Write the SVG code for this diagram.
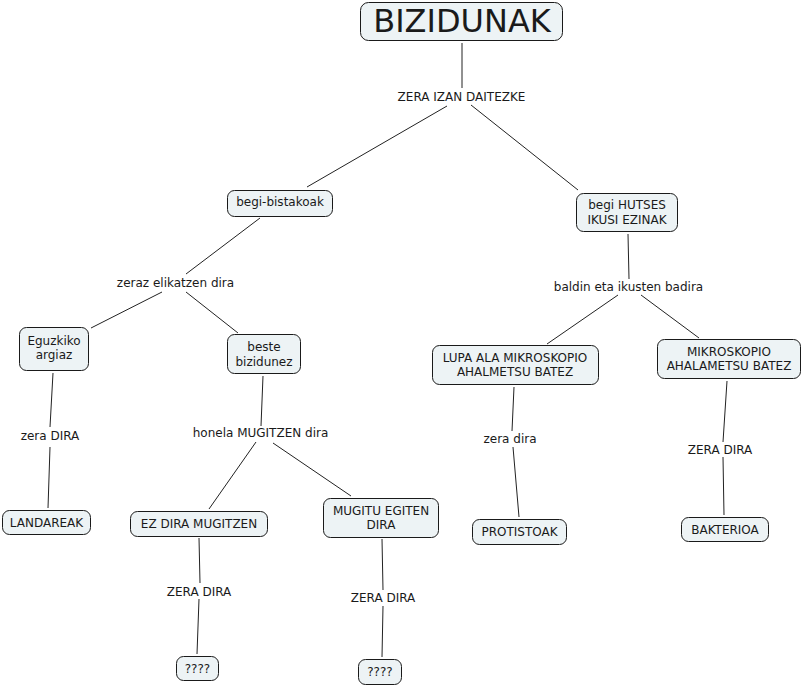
<svg xmlns="http://www.w3.org/2000/svg" width="802" height="686" viewBox="0 0 802 686">
<style>
.n rect{fill:#edf3f5;stroke:#1a1a1a;stroke-width:1}
text{font-family:"DejaVu Sans",Verdana,sans-serif;font-size:12px;fill:#1a1a1a;text-anchor:middle}
.big{font-size:32px}
#links line{stroke:#222;stroke-width:1}
</style>
<rect width="802" height="686" fill="#fff"/>
<g id="links">
<line x1="462" y1="43" x2="462" y2="88"/>
<line x1="447" y1="106" x2="307" y2="187"/>
<line x1="471" y1="105" x2="578" y2="190"/>
<line x1="260" y1="218" x2="186" y2="274"/>
<line x1="162" y1="292" x2="91" y2="328"/>
<line x1="186" y1="292" x2="238" y2="333"/>
<line x1="53" y1="373" x2="50" y2="427"/>
<line x1="50" y1="447" x2="48" y2="508"/>
<line x1="263" y1="376" x2="261" y2="426"/>
<line x1="256" y1="442" x2="209" y2="509"/>
<line x1="273" y1="443" x2="351" y2="496"/>
<line x1="199" y1="538" x2="200" y2="583"/>
<line x1="199" y1="599" x2="197" y2="654"/>
<line x1="382" y1="539" x2="383" y2="590"/>
<line x1="383" y1="606" x2="382" y2="657"/>
<line x1="628" y1="234" x2="629" y2="279"/>
<line x1="618" y1="295" x2="547" y2="344"/>
<line x1="641" y1="295" x2="699" y2="338"/>
<line x1="514" y1="387" x2="512" y2="431"/>
<line x1="513" y1="447" x2="519" y2="517"/>
<line x1="727" y1="381" x2="723" y2="442"/>
<line x1="723" y1="457" x2="724" y2="515"/>
</g>
<g id="labels">
<text x="461.5" y="101">ZERA IZAN DAITEZKE</text>
<text x="175.5" y="287">zeraz elikatzen dira</text>
<text x="628.5" y="291">baldin eta ikusten badira</text>
<text x="50" y="440">zera DIRA</text>
<text x="260.5" y="437">honela MUGITZEN dira</text>
<text x="510" y="443">zera dira</text>
<text x="720" y="454">ZERA DIRA</text>
<text x="199" y="596">ZERA DIRA</text>
<text x="383" y="602">ZERA DIRA</text>
</g>
<g id="n-bizidunak" class="n"><rect x="360.5" y="2.5" width="202" height="38" rx="8"/><text class="big" x="462" y="32">BIZIDUNAK</text></g>
<g id="n-begibistakoak" class="n"><rect x="227.5" y="190.5" width="105" height="26" rx="7"/><text x="280" y="206">begi-bistakoak</text></g>
<g id="n-hutses" class="n"><rect x="576.5" y="193.5" width="101" height="38" rx="7"/><text x="627" y="209">begi HUTSES</text><text x="627" y="224">IKUSI EZINAK</text></g>
<g id="n-eguzkiko" class="n"><rect x="19.5" y="327.5" width="69" height="43" rx="7"/><text x="54" y="345">Eguzkiko</text><text x="54" y="359">argiaz</text></g>
<g id="n-beste" class="n"><rect x="227.5" y="334.5" width="73" height="39" rx="7"/><text x="264" y="351">beste</text><text x="264" y="366">bizidunez</text></g>
<g id="n-lupa" class="n"><rect x="432.5" y="345.5" width="166" height="39" rx="7"/><text x="515" y="362">LUPA ALA MIKROSKOPIO</text><text x="515" y="376">AHALMETSU BATEZ</text></g>
<g id="n-mikro" class="n"><rect x="657.5" y="339.5" width="143" height="39" rx="7"/><text x="729" y="356">MIKROSKOPIO</text><text x="729" y="370">AHALAMETSU BATEZ</text></g>
<g id="n-landareak" class="n"><rect x="2.5" y="510.5" width="88" height="24" rx="7"/><text x="46.5" y="527">LANDAREAK</text></g>
<g id="n-ezdira" class="n"><rect x="130.5" y="511.5" width="137" height="25" rx="7"/><text x="199" y="528">EZ DIRA MUGITZEN</text></g>
<g id="n-mugitu" class="n"><rect x="323.5" y="498.5" width="115" height="39" rx="7"/><text x="381" y="515">MUGITU EGITEN</text><text x="381" y="529">DIRA</text></g>
<g id="n-protistoak" class="n"><rect x="472.5" y="519.5" width="94" height="25" rx="7"/><text x="519.5" y="536">PROTISTOAK</text></g>
<g id="n-bakterioa" class="n"><rect x="681.5" y="517.5" width="87" height="24" rx="7"/><text x="725" y="534">BAKTERIOA</text></g>
<g id="n-q1" class="n"><rect x="176.5" y="656.5" width="42" height="24" rx="7"/><text x="197.5" y="673">????</text></g>
<g id="n-q2" class="n"><rect x="358.5" y="659.5" width="43" height="25" rx="7"/><text x="380" y="676">????</text></g>
</svg>
